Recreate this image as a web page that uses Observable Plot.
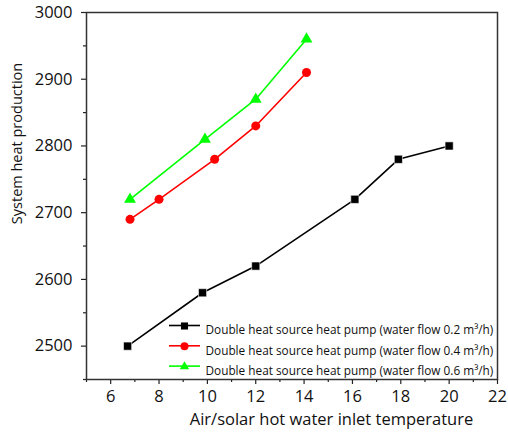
<!DOCTYPE html>
<html>
<head>
<meta charset="utf-8">
<script src="https://cdn.jsdelivr.net/npm/d3@7"></script>
<script src="https://cdn.jsdelivr.net/npm/@observablehq/plot@0.6"></script>
<style>
  html, body { margin: 0; padding: 0; background: #fff; }
  svg { font-family: "Open Sans", sans-serif; }
</style>
</head>
<body>
<div id="chart"></div>
<script>
// ---- data ----
const seriesNames = [
  "Double heat source heat pump (water flow 0.2 m³/h)",
  "Double heat source heat pump (water flow 0.4 m³/h)",
  "Double heat source heat pump (water flow 0.6 m³/h)"
];
const seriesColors = ["#000000", "#ff0000", "#00ff00"];
const seriesSymbols = ["square", "circle", "triangle"];

const x02 = [6.7, 9.8, 12.0, 16.1, 17.9, 20.0];
const y02 = [2500, 2580, 2620, 2720, 2780, 2800];
const x04 = [6.8, 8.0, 10.3, 12.0, 14.1];
const y04 = [2690, 2720, 2780, 2830, 2910];
const x06 = [6.8, 9.9, 12.0, 14.1];
const y06 = [2720, 2810, 2870, 2960];

const xTicks = [6, 8, 10, 12, 14, 16, 18, 20, 22];
const xMinorTicks = [5, 7, 9, 11, 13, 15, 17, 19, 21];
const yTicks = [2500, 2600, 2700, 2800, 2900, 3000];
const yMinorTicks = [2450, 2550, 2650, 2750, 2850, 2950];

const xTitle = "Air/solar hot water inlet temperature";
const yTitle = "System heat production";

// ---- build ----
const xs = [x02, x04, x06], ys = [y02, y04, y06];
const dotR = [4.6, 4.5, 4.4];
const legendR = [4.0, 4.0, 3.5];

const marks = [];
for (let s = 0; s < 3; s++) {
  const d = xs[s].map((x, i) => ({x, y: ys[s][i]}));
  marks.push(Plot.line(d, {x: "x", y: "y", stroke: seriesColors[s], strokeWidth: 1.6}));
  marks.push(Plot.dot(d, {x: "x", y: "y", symbol: () => seriesSymbols[s], fill: seriesColors[s],
    r: dotR[s], stroke: "white", strokeWidth: s === 0 ? 0.6 : 0}));
}
// axes
marks.push(Plot.axisX(xTicks, {label: null, tickSize: 5, tickPadding: 6, fontSize: 16.5, stroke: "#222", strokeWidth: 1.2, fill: "#111", tickFormat: d => String(d)}));
marks.push(Plot.axisX(xMinorTicks, {label: null, tickSize: 3, text: null, stroke: "#222", strokeWidth: 1.2}));
marks.push(Plot.axisY(yTicks, {label: null, tickSize: 5, tickPadding: 9, fontSize: 16.5, stroke: "#222", strokeWidth: 1.2, fill: "#111", tickFormat: d => String(d)}));
marks.push(Plot.axisY(yMinorTicks, {label: null, tickSize: 3, text: null, stroke: "#222", strokeWidth: 1.2}));
marks.push(Plot.frame({stroke: "#333", strokeWidth: 1.5}));
// axis titles
marks.push(Plot.text([xTitle], {text: d => d, frameAnchor: "bottom-left", dx: 245, dy: 45, fontSize: 16.5, textAnchor: "middle", fill: "#111"}));
marks.push(Plot.text([yTitle], {text: d => d, frameAnchor: "top-left", dx: -75, dy: 131, rotate: -90, fontSize: 14.5, textAnchor: "middle", fill: "#111"}));
// legend
for (let s = 0; s < 3; s++) {
  const dy = 313.5 + s * 20.3;
  marks.push(() => {
    const line = d3.create("svg:line")
      .attr("x1", 86 + 83).attr("x2", 86 + 114).attr("y1", 12 + dy).attr("y2", 12 + dy)
      .attr("stroke", seriesColors[s]).attr("stroke-width", 1.6);
    return line.node();
  });
  marks.push(Plot.dot([seriesNames[s]], {frameAnchor: "top-left", dx: 98, dy, symbol: () => seriesSymbols[s], fill: seriesColors[s], r: legendR[s]}));
  marks.push(Plot.text([seriesNames[s]], {text: d => d, frameAnchor: "top-left", dx: 119, dy, fontSize: 11.8, textAnchor: "start", fill: "#111"}));
}

const chart = Plot.plot({
  width: 508,
  height: 432,
  marginLeft: 86,
  marginRight: 11,
  marginTop: 12,
  marginBottom: 53,
  style: {fontFamily: "'Open Sans', sans-serif", background: "white"},
  x: {domain: [5, 22], axis: null},
  y: {domain: [2450, 3000], axis: null},
  marks
});
document.getElementById("chart").appendChild(chart);
</script>
</body>
</html>
